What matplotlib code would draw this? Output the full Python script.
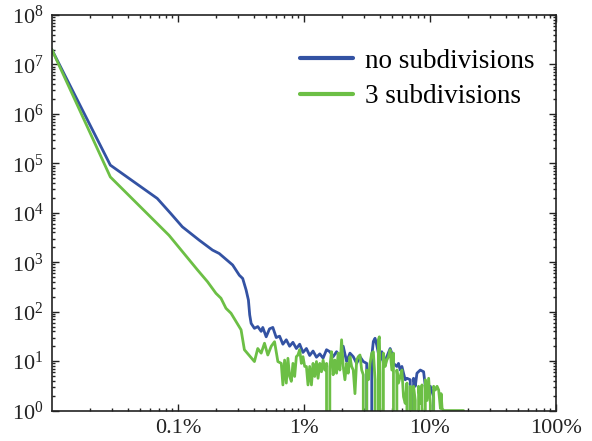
import matplotlib
matplotlib.use("Agg")
import matplotlib.pyplot as plt
from matplotlib.ticker import LogLocator, NullFormatter

plt.rcParams['font.family'] = ['Liberation Serif', 'DejaVu Serif']
plt.rcParams['mathtext.fontset'] = 'custom'
plt.rcParams['mathtext.rm'] = 'Liberation Serif'
plt.rcParams['mathtext.it'] = 'Liberation Serif:italic'

# x values are in percent, y values are counts (0 = empty bin)
blue_pct = [0.01, 0.029, 0.0684, 0.0874, 0.1082, 0.1471, 0.1878, 0.2124,
            0.2713, 0.3067, 0.326, 0.347, 0.362, 0.3707, 0.3804, 0.4041,
            0.4295, 0.4571, 0.4708, 0.501, 0.5324, 0.5657, 0.6022, 0.64,
            0.6799, 0.7236, 0.769, 0.817, 0.8696, 0.9242, 0.9818, 1.045,
            1.11, 1.18, 1.256, 1.335, 1.418, 1.51,
            1.604, 1.704, 1.814, 1.927, 2.048, 2.18, 2.316, 2.461, 2.619, 2.783,
            2.957, 3.148, 3.344, 3.451, 3.553, 3.666, 3.782, 3.895, 4.018, 4.146,
            4.27, 4.546, 4.831, 4.983, 5.132, 5.463, 5.626, 5.805, 5.989, 6.168,
            6.363, 6.565, 6.975, 7.196, 7.411, 7.646, 7.888, 8.381, 8.905, 9.19,
            9.48, 9.763, 10.07, 10.7, 11.04]
blue_count = [1.95e7, 9.2e4, 1.95e4, 9.7e3, 5.2e3, 2.8e3, 1.76e3, 1.5e3,
              880, 545, 470, 275, 172, 86, 58, 46,
              50, 40, 48, 31, 45, 48, 30, 32,
              22, 27, 20, 24, 18, 22, 15, 18,
              13, 16, 12, 14, 11.5, 17,
              15.5, 12.3, 15.5, 12.3, 20, 9.8, 14.5, 12.3, 9, 12.3,
              9.8, 9, 0, 12.3, 25, 29, 21, 14.5, 10.5, 15.5,
              9, 12.3, 18, 14.5, 9, 7.8, 9, 6.6, 7.8, 5.7,
              4.2, 4.5, 4.2, 0, 4.5, 3.1, 5.7, 6.6, 6.1, 3.1,
              3.6, 1.9, 3.1, 1.9, 0]

green_pct = [0.01, 0.029, 0.0848, 0.1426, 0.1713, 0.2, 0.2192, 0.2402, 0.2634,
             0.3165, 0.3363,
             0.4041, 0.4295, 0.4571, 0.4857, 0.516, 0.5493, 0.5837, 0.6202,
             0.6601, 0.6799, 0.7015, 0.7236, 0.7453, 0.769, 0.7933, 0.817,
             0.843, 0.8696, 0.8956, 0.9242, 0.9533, 0.9818, 1.013, 1.045,
             1.076, 1.11, 1.146, 1.18, 1.217, 1.256, 1.293, 1.335, 1.377,
             1.418, 1.463, 1.51, 1.554,
             1.604, 1.655, 1.704, 1.758, 1.814, 1.868, 1.927, 1.988, 2.048, 2.113,
             2.18, 2.245, 2.316, 2.389, 2.461, 2.539, 2.619, 2.698, 2.783, 2.871,
             2.957, 3.05, 3.148, 3.242, 3.344, 3.451, 3.553, 3.666, 3.782, 3.895,
             3.967, 4.018, 4.146, 4.27, 4.406, 4.546, 4.681, 4.831, 4.983, 5.132,
             5.295, 5.463, 5.626, 5.805, 5.989, 6.168, 6.363, 6.565, 6.761, 6.975,
             7.196, 7.411, 7.646, 7.888, 8.124, 8.381, 8.647, 8.905, 9.19, 9.48,
             9.763, 10.07, 10.39, 10.7, 11.04, 11.39, 11.73, 12.11, 12.26, 12.49,
             12.86, 14.55, 16.55, 18.48, 19.17]
green_count = [1.95e7, 5.3e4, 3.5e3, 700, 404, 235, 187, 117, 93,
               43, 17,
               9.8, 18, 14.5, 23, 13.3, 20, 24.7, 9.8,
               9, 3.3, 10.5, 3.6, 11.4, 4.9, 3.9, 9,
               4.9, 12.3, 13.3, 17, 9, 12.3, 7.8, 7.8,
               3.3, 7.8, 3.3, 9, 4.9, 9.8, 4.5, 9, 6.1,
               10.5, 6.6, 9, 0,
               7.8, 15.5, 5.3, 10.5, 5.7, 14.5, 6.6, 27, 7.8, 4.2,
               9, 5.7, 12.3, 7.8, 6.6, 2.2, 10.5, 12.3, 13.3, 6.6,
               5.3, 0, 6.6, 4.2, 9, 14.5, 15.5, 4.2, 0, 27,
               31, 5.7, 0, 14.5, 7.8, 10.5, 12.3, 17, 6.6, 14.5,
               0, 6.6, 3.6, 4.9, 6.6, 1.9, 1.4, 3.6, 0, 3.1,
               0, 3.1, 1.6, 0, 3.1, 1.4, 3.3, 0, 4.2, 1.6,
               4.5, 1.4, 0, 3.1, 2.6, 3.1, 2.6, 1.1, 2.2, 1.1,
               1, 1, 1, 1, 0]

series_labels = ['no subdivisions', '3 subdivisions']
x_ticks = [0.1, 1, 10, 100]
x_ticklabels = ['0.1%', '1%', '10%', '100%']
y_ticks = [10**k for k in range(9)]
y_ticklabels = [r'$\mathregular{10^{%d}}$' % k for k in range(9)]


def main():
    fig = plt.figure(figsize=(5.92, 4.41), dpi=100)
    ax = fig.add_axes([0.088, 0.069, 0.851, 0.897])

    ax.plot(blue_pct, blue_count, color='#3352a3', lw=2.0, label=series_labels[0])
    ax.plot(green_pct, green_count, color='#6cbf45', lw=2.0, label=series_labels[1])

    ax.set_xscale('log')
    ax.set_yscale('log')
    ax.set_xlim(0.01, 100)
    ax.set_ylim(1, 1e8)

    ax.set_xticks(x_ticks)
    ax.set_xticklabels(x_ticklabels)
    ax.set_yticks(y_ticks)
    ax.set_yticklabels(y_ticklabels)
    for axis in (ax.xaxis, ax.yaxis):
        axis.set_minor_locator(LogLocator(base=10, subs=range(2, 10), numticks=100))
        axis.set_minor_formatter(NullFormatter())
    ax.tick_params(which='both', direction='in', top=True, right=True,
                   labelsize=16, colors='#222222', width=1.0)
    ax.tick_params(which='major', length=5, pad=6)
    ax.tick_params(which='minor', length=2.5)
    for s in ax.spines.values():
        s.set_linewidth(1.2)
        s.set_color('#222222')

    leg = ax.legend(loc='upper left', bbox_to_anchor=(0.492, 0.915), frameon=False,
                    fontsize=19.5, handlelength=1.95, handletextpad=0.45,
                    labelspacing=0.4, borderpad=0, borderaxespad=0)
    for line in leg.get_lines():
        line.set_linewidth(3.0)
        line.set_solid_capstyle('round')

    fig.savefig('out.png', dpi=100)
    plt.close()


if __name__ == '__main__':
    main()
